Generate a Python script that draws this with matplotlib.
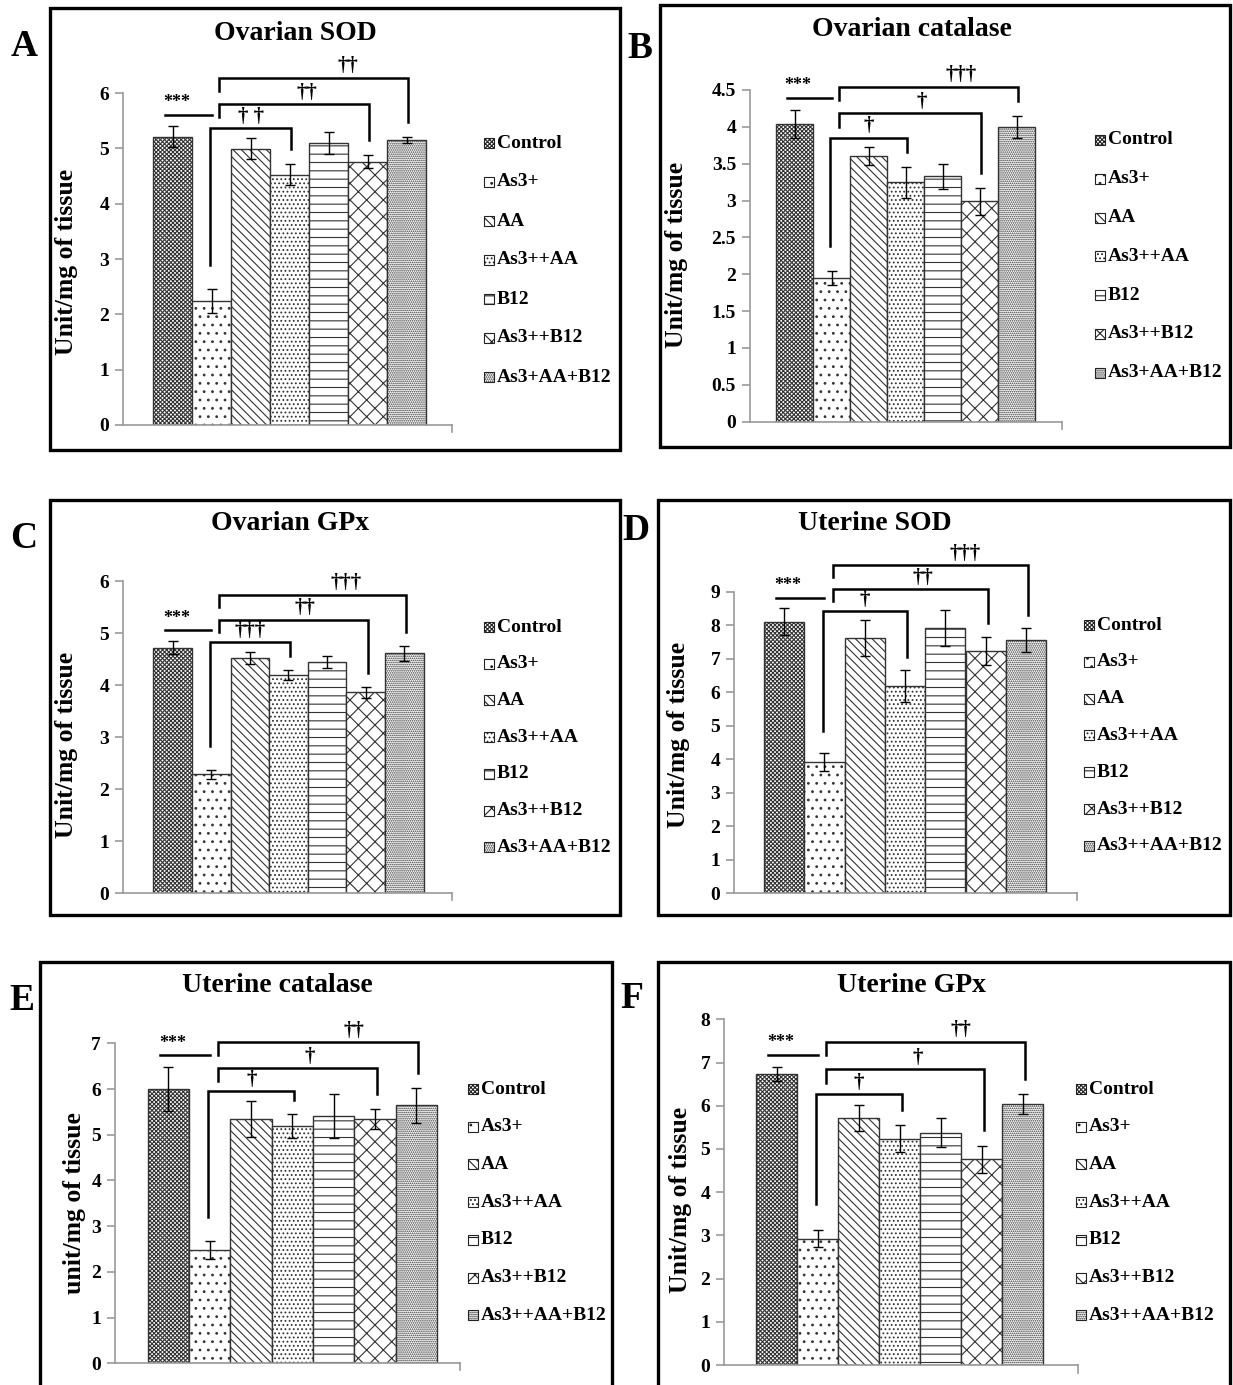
import numpy as np
import matplotlib.pyplot as plt
from matplotlib.patches import Rectangle

plt.rcParams['font.family'] = ['Liberation Serif', 'DejaVu Serif']
plt.rcParams['font.weight'] = 'bold'
plt.rcParams['hatch.linewidth'] = 0.8

W, H = 1233, 1385

groups_a = ['Control', 'As3+', 'AA', 'As3++AA', 'B12', 'As3++B12', 'As3+AA+B12']
groups_b = ['Control', 'As3+', 'AA', 'As3++AA', 'B12', 'As3++B12', 'As3++AA+B12']

# mean values and error bars (unit/mg of tissue)
sod_ov = [5.21, 2.24, 4.99, 4.52, 5.10, 4.76, 5.15]
sod_ov_err = [0.19, 0.21, 0.19, 0.19, 0.20, 0.12, 0.06]
cat_ov = [4.04, 1.95, 3.60, 3.25, 3.33, 2.99, 4.00]
cat_ov_err = [0.19, 0.09, 0.12, 0.21, 0.17, 0.18, 0.15]
gpx_ov = [4.72, 2.28, 4.52, 4.19, 4.44, 3.86, 4.61]
gpx_ov_err = [0.12, 0.09, 0.12, 0.10, 0.12, 0.11, 0.14]
sod_ut = [8.10, 3.92, 7.61, 6.19, 7.91, 7.23, 7.56]
sod_ut_err = [0.40, 0.26, 0.54, 0.47, 0.54, 0.42, 0.35]
cat_ut = [6.00, 2.48, 5.35, 5.19, 5.41, 5.35, 5.64]
cat_ut_err = [0.49, 0.20, 0.39, 0.26, 0.49, 0.22, 0.39]
gpx_ut = [6.73, 2.92, 5.72, 5.24, 5.38, 4.76, 6.03]
gpx_ut_err = [0.16, 0.20, 0.30, 0.31, 0.34, 0.31, 0.23]

# comparisons against As3+ : (target bar, label)
sig_sod_ov = [(3, '† †'), (5, '††'), (6, '††')]
sig_cat_ov = [(3, '†'), (5, '†'), (6, '†††')]
sig_gpx_ov = [(3, '†††'), (5, '††'), (6, '†††')]
sig_sod_ut = [(3, '†'), (5, '††'), (6, '†††')]
sig_cat_ut = [(3, '†'), (5, '†'), (6, '††')]
sig_gpx_ut = [(3, '†'), (5, '†'), (6, '††')]

hatches = ['x' * 8, '..', '\\' * 4, '....', '--', 'xx', '.' * 8]

# layout in pixels: axis x, axis right end, y of 0, y of top tick, first bar left, bar width
panels = [
    dict(letter='A', title='Ovarian SOD', ylabel='Unit/mg of tissue', vals=sod_ov, errs=sod_ov_err,
         sig=sig_sod_ov, ytop=6, ystep=1, names=groups_a,
         geo=(123, 452, 425, 93, 153, 39), box=(50, 8, 620, 450),
         tpos=(295, 33), lpos=(67, 262), letpos=(24, 47), leg=(489, 143, 39)),
    dict(letter='B', title='Ovarian catalase', ylabel='Unit/mg of tissue', vals=cat_ov, errs=cat_ov_err,
         sig=sig_cat_ov, ytop=4.5, ystep=0.5, names=groups_a,
         geo=(750, 1062, 421.7, 90, 776, 37), box=(660, 5, 1230, 447),
         tpos=(912, 30), lpos=(677, 255), letpos=(640, 48), leg=(1100, 140, 38.8)),
    dict(letter='C', title='Ovarian GPx', ylabel='Unit/mg of tissue', vals=gpx_ov, errs=gpx_ov_err,
         sig=sig_gpx_ov, ytop=6, ystep=1, names=groups_a,
         geo=(123, 452, 893, 581, 153.3, 38.6), box=(50, 500, 620, 915),
         tpos=(290, 523), lpos=(67, 745), letpos=(24, 538), leg=(489, 627, 36.7)),
    dict(letter='D', title='Uterine SOD', ylabel='Unit/mg of tissue', vals=sod_ut, errs=sod_ut_err,
         sig=sig_sod_ut, ytop=9, ystep=1, names=groups_b,
         geo=(734.3, 1077, 893.3, 591.7, 764, 40.3), box=(658, 500, 1230, 915),
         tpos=(875, 523), lpos=(679, 735), letpos=(636, 530), leg=(1089, 625, 36.8)),
    dict(letter='E', title='Uterine catalase', ylabel='unit/mg of tissue', vals=cat_ut, errs=cat_ut_err,
         sig=sig_cat_ut, ytop=7, ystep=1, names=groups_b,
         geo=(115, 460, 1363.3, 1043.3, 147.7, 41.3), box=(40, 962, 612, 1395),
         tpos=(277, 986), lpos=(74, 1203), letpos=(22, 1000), leg=(473, 1089, 37.7)),
    dict(letter='F', title='Uterine GPx', ylabel='Unit/mg of tissue', vals=gpx_ut, errs=gpx_ut_err,
         sig=sig_gpx_ut, ytop=8, ystep=1, names=groups_b,
         geo=(724.3, 1078, 1365, 1019.3, 756, 41.0), box=(658, 962, 1230, 1395),
         tpos=(911, 986), lpos=(680, 1200), letpos=(632, 998), leg=(1081, 1089, 37.7)),
]

fig = plt.figure(figsize=(W / 100, H / 100), dpi=100)


def fx(x):
    return x / W


def fy(y):
    return 1 - y / H


def draw_sig(ax, vals, errs, sig, ytop):
    tops = np.array(vals) + np.array(errs)
    ys = tops[0] + 0.035 * ytop
    ax.plot([-0.2, 1.0], [ys, ys], color='black', lw=1.8, clip_on=False)
    ax.text(0.1, ys + 0.012 * ytop, '***', ha='center', va='bottom', fontsize=13, clip_on=False)
    level = 0
    steps = [0, 0.073, 0.08]
    fracs = [0.5, 0.58, 0.68]
    for k, (t, lab) in enumerate(sig):
        need = tops[1:t + 1].max() + 0.03 * ytop
        if k == 0:
            level = need
            xl = 0.97
            yl = tops[1] + 0.075 * ytop
        else:
            level = max(level + steps[k] * ytop, need)
            xl = 1.2
            yl = level - 0.04 * ytop
        xr = t + 0.05
        yr = tops[t] + 0.045 * ytop
        ax.plot([xl, xl, xr, xr], [yl, level, level, yr], color='black', lw=1.8,
                clip_on=False, solid_joinstyle='miter')
        ax.text(xl + fracs[k] * (xr - xl), level + 0.004 * ytop, lab, ha='center', va='bottom',
                fontsize=15, clip_on=False)


for p in panels:
    axx, right, y0, ytp, b0, bw = p['geo']
    ax = fig.add_axes([fx(axx), fy(y0), (right - axx) / W, (y0 - ytp) / H])
    x = np.arange(len(p['vals']))
    ax.bar(x, p['vals'], width=1.0, color='white', edgecolor='#333333', linewidth=1.0,
           hatch=hatches, zorder=2)
    ax.errorbar(x, p['vals'], yerr=p['errs'], fmt='none', ecolor='black', elinewidth=1.0,
                capsize=3.5, capthick=1.0, zorder=3)
    ax.set_ylim(0, p['ytop'])
    ax.set_xlim(-0.5 - (b0 - axx) / bw, -0.5 + (right - b0) / bw)
    ticks = np.arange(0, p['ytop'] + 1e-9, p['ystep'])
    ax.set_yticks(ticks)
    ax.set_yticklabels([f'{t:g}' for t in ticks], fontsize=14, fontweight='bold')
    ax.set_xticks([])
    for s in ['top', 'right']:
        ax.spines[s].set_visible(False)
    for s in ['left', 'bottom']:
        ax.spines[s].set_color('#999999')
        ax.spines[s].set_linewidth(1.2)
    ax.tick_params(axis='y', direction='out', length=6, color='#999999', width=1.2, pad=4)
    ax.plot([1, 1], [0, -0.022], transform=ax.transAxes, color='#999999', lw=1.2, clip_on=False)
    draw_sig(ax, p['vals'], p['errs'], p['sig'], p['ytop'])

    # panel box
    bx0, by0, bx1, by1 = p['box']
    fig.add_artist(Rectangle((fx(bx0), fy(by1)), (bx1 - bx0) / W, (by1 - by0) / H,
                             transform=fig.transFigure, fill=False, edgecolor='black', lw=2.4))
    fig.text(fx(p['tpos'][0]), fy(p['tpos'][1]), p['title'], ha='center', va='center', fontsize=20)
    fig.text(fx(p['lpos'][0]), fy(p['lpos'][1]), p['ylabel'], ha='center', va='center',
             rotation=90, fontsize=18.5)
    fig.text(fx(p['letpos'][0]), fy(p['letpos'][1]), p['letter'], ha='center', va='center', fontsize=27)

    # legend
    lx, ly, dy = p['leg']
    for i, name in enumerate(p['names']):
        yy = ly + i * dy
        fig.add_artist(Rectangle((fx(lx - 5), fy(yy + 5)), 10 / W, 10 / H, transform=fig.transFigure,
                                 facecolor='white', edgecolor='#222222', lw=0.8, hatch=hatches[i]))
        fig.text(fx(lx + 8), fy(yy), name, ha='left', va='center', fontsize=14)

fig.savefig('out.png', dpi=100)
